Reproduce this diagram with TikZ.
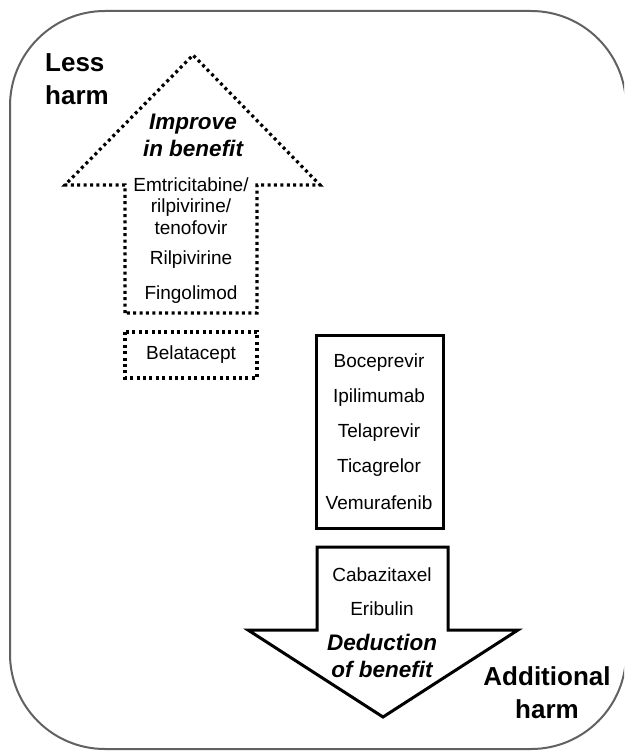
\documentclass[tikz,border=0pt]{standalone}
\usepackage{fontspec}
\setmainfont{Liberation Sans}
\begin{document}
\begin{tikzpicture}[x=1pt,y=-1pt,
  drug/.style={font=\fontsize{19}{21.5}\selectfont, inner sep=0pt, align=center},
  big/.style={font=\fontsize{26}{33}\selectfont\bfseries, inner sep=0pt},
  lab/.style={font=\fontsize{22.5}{27}\selectfont\bfseries\itshape, inner sep=0pt, align=center},
  dotline/.style={line width=3.2pt, dash pattern=on 3pt off 3.4pt, line join=miter},
  solidline/.style={line width=3pt, line join=miter},
  frame/.style={draw=black!62, line width=2pt, rounded corners=95pt}]
\useasboundingbox (0,0) rectangle (624,751);
\begin{scope}
  \clip (0,0) rectangle (624,751);
  \draw[frame] (10,11) rectangle (626,749);
\end{scope}

% up arrow (dotted)
\draw[dotline] (125,313) -- (125,185) -- (65,185) -- (193,55) -- (320,185) -- (257,185) -- (257,313) -- cycle;
% Belatacept box
\draw[dotline] (125,332) rectangle (257,378);

% solid box
\draw[solidline] (316,335) rectangle (443,528);

% down arrow (solid)
\draw[solidline] (317,547) -- (448,547) -- (448,630) -- (518,630) -- (383,717) -- (248,630) -- (317,630) -- cycle;

% labels
\node[big, align=left, anchor=west] (less) at (45,79) {Less\\harm};
\node[big, align=center] (add) at (547,693) {Additional\\harm};
\node[lab] (imp) at (193,135) {Improve\\in benefit};
\node[lab] (ded) at (382,656) {Deduction\\of benefit};

% drugs in up arrow
\node[drug] (emt) at (191,206) {Emtricitabine/\\rilpivirine/\\tenofovir};
\node[drug] (ril) at (191,260) {Rilpivirine};
\node[drug] (fin) at (191,295) {Fingolimod};
\node[drug] (bel) at (191,355) {Belatacept};

% drugs in solid box
\node[drug] (boc) at (379,363) {Boceprevir};
\node[drug] (ipi) at (379,398) {Ipilimumab};
\node[drug] (tel) at (379,433) {Telaprevir};
\node[drug] (tic) at (379,468) {Ticagrelor};
\node[drug] (vem) at (379,503) {Vemurafenib};

% drugs in down arrow
\node[drug] (cab) at (382,575) {Cabazitaxel};
\node[drug] (eri) at (382,609) {Eribulin};
\end{tikzpicture}
\end{document}
